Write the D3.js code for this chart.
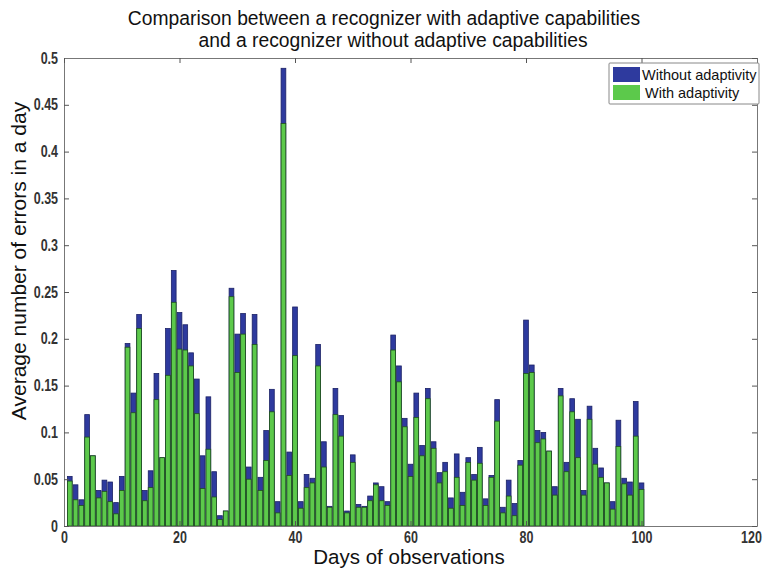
<!DOCTYPE html>
<html>
<head>
<meta charset="utf-8">
<script src="https://cdn.jsdelivr.net/npm/d3@7"></script>
<style>
  body { margin: 0; background: #fff; }
  .tick text { font-family: "Liberation Sans", Arial, sans-serif; font-weight: bold; fill: #333; }
</style>
</head>
<body>
<svg id="chart"></svg>
<script>
// days 1..100
const days = d3.range(1, 101);
// error rate without adaptivity (blue, behind)
const withoutAdapt = [
  0.053, 0.044, 0.028, 0.119, 0.075, 0.038, 0.049, 0.047, 0.025, 0.053,
  0.195, 0.142, 0.226, 0.038, 0.059, 0.163, 0.073, 0.211, 0.273, 0.228,
  0.215, 0.185, 0.157, 0.075, 0.138, 0.058, 0.011, 0.016, 0.254, 0.205,
  0.227, 0.063, 0.226, 0.052, 0.102, 0.146, 0.026, 0.489, 0.079, 0.234,
  0.026, 0.055, 0.051, 0.194, 0.090, 0.021, 0.147, 0.118, 0.016, 0.076,
  0.023, 0.021, 0.032, 0.046, 0.042, 0.026, 0.204, 0.171, 0.115, 0.066,
  0.142, 0.086, 0.147, 0.090, 0.057, 0.068, 0.030, 0.077, 0.036, 0.073,
  0.055, 0.084, 0.029, 0.054, 0.135, 0.020, 0.049, 0.024, 0.070, 0.220,
  0.172, 0.102, 0.100, 0.080, 0.042, 0.147, 0.068, 0.136, 0.114, 0.038,
  0.128, 0.083, 0.062, 0.046, 0.026, 0.113, 0.051, 0.047, 0.133, 0.046
];
// error rate with adaptivity (green, front)
const withAdapt = [
  0.048, 0.028, 0.022, 0.095, 0.075, 0.030, 0.037, 0.026, 0.013, 0.038,
  0.191, 0.121, 0.211, 0.027, 0.041, 0.135, 0.073, 0.161, 0.239, 0.189,
  0.188, 0.171, 0.120, 0.040, 0.082, 0.031, 0.007, 0.016, 0.245, 0.164,
  0.205, 0.050, 0.194, 0.038, 0.070, 0.122, 0.014, 0.430, 0.054, 0.182,
  0.019, 0.041, 0.046, 0.171, 0.063, 0.020, 0.119, 0.096, 0.014, 0.068,
  0.020, 0.020, 0.027, 0.044, 0.027, 0.022, 0.188, 0.154, 0.106, 0.053,
  0.116, 0.075, 0.136, 0.083, 0.046, 0.058, 0.019, 0.052, 0.022, 0.068,
  0.049, 0.067, 0.022, 0.052, 0.112, 0.014, 0.032, 0.011, 0.065, 0.163,
  0.164, 0.089, 0.093, 0.080, 0.033, 0.139, 0.058, 0.122, 0.073, 0.033,
  0.114, 0.066, 0.052, 0.046, 0.018, 0.085, 0.045, 0.033, 0.096, 0.039
];
const xTicks = [0, 20, 40, 60, 80, 100, 120];
const yTicks = [0, 0.05, 0.1, 0.15, 0.2, 0.25, 0.3, 0.35, 0.4, 0.45, 0.5];
const seriesNames = ["Without adaptivity", "With adaptivity"];
const colors = ["#2e3a9e", "#5cc94b"];
const edges = ["#1c2266", "#1f4f1c"];

const W = 768, H = 568;
const margin = { top: 58, right: 11, bottom: 42, left: 64 };
const width = W - margin.left - margin.right;
const height = H - margin.top - margin.bottom;

const svg = d3.select('#chart').attr('width', W).attr('height', H);
const g = svg.append('g').attr('transform', `translate(${margin.left},${margin.top})`);

const x = d3.scaleLinear().domain([0, 120]).range([0, width]);
const y = d3.scaleLinear().domain([0, 0.5]).range([height, 0]);
const bw = x(0.82) - x(0);

// blue behind, green in front
[withoutAdapt, withAdapt].forEach((vals, k) => {
  g.append('g').selectAll('rect')
    .data(days)
    .join('rect')
      .attr('x', (d) => x(d) - bw / 2)
      .attr('y', (d, i) => y(vals[i]))
      .attr('width', bw)
      .attr('height', (d, i) => y(0) - y(vals[i]))
      .attr('fill', colors[k])
      .attr('stroke', edges[k])
      .attr('stroke-width', 0.8);
});

// condensed look for tick labels
const narrow = (sel) => {
  sel.each(function () {
    const len = this.getComputedTextLength();
    d3.select(this).attr('textLength', len * 0.78).attr('lengthAdjust', 'spacingAndGlyphs');
  });
};

// axes, matlab style box with inward ticks
const axStyle = (sel) => {
  sel.select('.domain').attr('stroke', '#777');
  sel.selectAll('.tick line').attr('stroke', '#555');
};
g.append('g').attr('transform', `translate(0,${height})`)
  .call(d3.axisBottom(x).tickValues(xTicks).tickSize(-5).tickSizeOuter(0).tickPadding(6).tickFormat(d3.format('d')))
  .call(axStyle)
  .selectAll('text').attr('font-size', 16).call(narrow)
  .attr('dx', (d) => d === 120 ? -6 : 0);
g.append('g')
  .call(d3.axisLeft(y).tickValues(yTicks).tickSize(-5).tickSizeOuter(0).tickPadding(6).tickFormat((d) => d === 0 ? '0' : d3.format('.2~f')(d)))
  .call(axStyle)
  .selectAll('text').attr('font-size', 16).call(narrow);
g.append('g')
  .call(d3.axisTop(x).tickValues(xTicks).tickSize(-5).tickSizeOuter(0).tickFormat(''))
  .call(axStyle);
g.append('g').attr('transform', `translate(${width},0)`)
  .call(d3.axisRight(y).tickValues(yTicks).tickSize(-5).tickSizeOuter(0).tickFormat(''))
  .call(axStyle);

const font = '"Liberation Sans", Arial, sans-serif';

// title
const title = svg.append('text')
  .attr('text-anchor', 'middle')
  .style('font-family', font)
  .style('font-size', '19.3px').attr('fill', '#111');
title.append('tspan').attr('x', 384).attr('y', 25).text('Comparison between a recognizer with adaptive capabilities');
title.append('tspan').attr('x', 393).attr('y', 47).text('and a recognizer without adaptive capabilities');

// axis labels
svg.append('text')
  .attr('x', 409).attr('y', 564)
  .attr('text-anchor', 'middle')
  .style('font-family', font)
  .style('font-size', '20.5px').attr('fill', '#111')
  .text('Days of observations');
svg.append('text')
  .attr('transform', 'translate(26,261) rotate(-90)')
  .attr('text-anchor', 'middle')
  .style('font-family', font)
  .style('font-size', '21px').attr('fill', '#111')
  .text('Average number of errors in a day');

// legend
const lg = svg.append('g').attr('transform', 'translate(609,63)');
lg.append('rect').attr('width', 150).attr('height', 41)
  .attr('fill', '#fff').attr('stroke', '#888').attr('rx', 1);
seriesNames.forEach((name, i) => {
  lg.append('rect').attr('x', 4).attr('y', 4 + i * 18).attr('width', 27).attr('height', 15)
    .attr('fill', colors[i]);
  lg.append('text').attr('x', i === 0 ? 33 : 36).attr('y', 17 + i * 18)
    .style('font-family', font)
    .style('font-size', '14.5px').attr('fill', '#111')
    .text(name);
});
</script>
</body>
</html>
